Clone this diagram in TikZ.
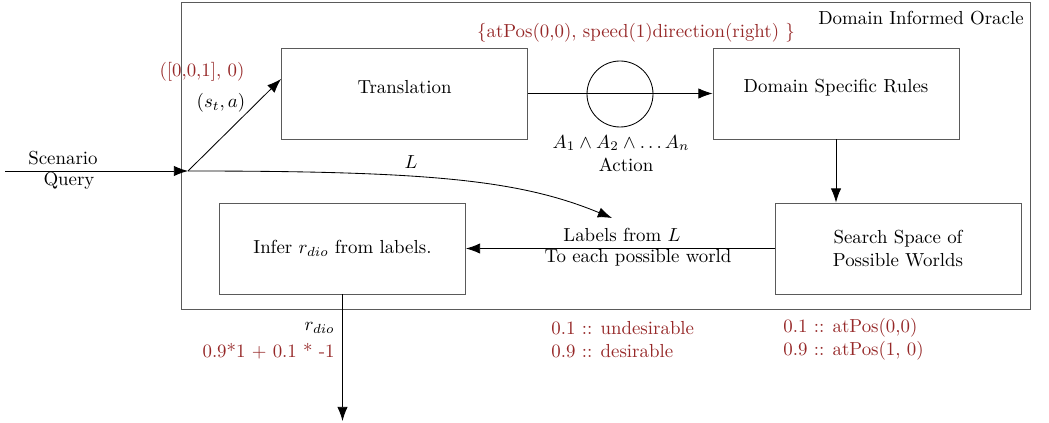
\documentclass[tikz,border=0pt]{standalone}
\usetikzlibrary{arrows.meta}
\definecolor{redtxt}{RGB}{150,40,40}
\definecolor{boxgray}{RGB}{90,90,90}
\begin{document}
\begin{tikzpicture}[x=0.53pt,y=-0.53pt,
  box/.style={draw=boxgray,line width=0.5pt,minimum width=246*0.53pt,minimum height=91*0.53pt,inner sep=0pt,align=center},
  conn/.style={draw=black,line width=0.45pt,-{Latex[length=7.5pt,width=5.5pt]}},
  lbl/.style={inner sep=0pt,align=center},
  rlbl/.style={inner sep=0pt,text=redtxt,align=left}]
\useasboundingbox (0,0) rectangle (1049,423);
\node[draw=boxgray,line width=0.5pt,minimum width=849*0.53pt,minimum height=307*0.53pt,inner sep=0pt] (oracle) at (605.5,155.5) {};
\node[lbl,anchor=east] (title) at (1024,18) {Domain Informed Oracle};
\node[box,label={[lbl,yshift=3.2pt]center:Translation}] (trans) at (404.5,93.5) {};
\node[box,label={[lbl,yshift=3.2pt]center:Domain Specific Rules}] (dsr) at (836,93.5) {};
\node[box] (ss) at (898,248.5) {Search Space of\\Possible Worlds};
\node[box] (infer) at (342.5,248.5) {Infer $r_{dio}$ from labels.};
\node[draw=black,line width=0.45pt,circle,minimum size=66*0.53pt,inner sep=0pt] (circ) at (620,94) {};
\node[lbl,text=redtxt] (facts) at (636,33) {\{atPos(0,0), speed(1)direction(right) \}};
\node[lbl] (conj) at (621,143) {$A_1\wedge A_2\wedge\ldots A_n$};
\node[lbl] (action) at (626,165) {Action};
\node[lbl] (lab1) at (622,235) {Labels from $L$};
\node[lbl] (lab2) at (638,258) {To each possible world};
\node[lbl] (scen) at (63,158) {Scenario};
\node[lbl] (query) at (69,181) {Query};
\node[lbl] (sa) at (221,103) {$(s_t,a)$};
\node[lbl,text=redtxt] (vec) at (202,72) {([0,0,1], 0)};
\node[lbl] (L) at (411,162) {$L$};
\node[lbl,anchor=east] (rdio) at (335,328) {$r_{dio}$};
\node[lbl,anchor=east,text=redtxt] (calc) at (335,351) {0.9*1 + 0.1 * -1};
\node[rlbl,anchor=west] (u1) at (551,328) {0.1 :: undesirable};
\node[rlbl,anchor=west] (u2) at (551,351) {0.9 :: desirable};
\node[rlbl,anchor=west] (p1) at (783,328) {0.1 :: atPos(0,0)};
\node[rlbl,anchor=west] (p2) at (783,351) {0.9 :: atPos(1, 0)};
\coordinate (start) at (5,171);
\coordinate (junc) at (188,171);
\coordinate (ltip) at (612,218);
\coordinate (out) at (342.5,421);
\draw[conn] (start) -- (junc);
\draw[conn] (junc) -- (trans.west |- 0,79);
\draw[conn] (junc) .. controls (430,171) and (520,180) .. (ltip);
\draw[conn] (trans.east) -- (dsr.west);
\draw[conn] (dsr.south) -- (dsr.south |- ss.north);
\draw[conn] (ss.west) -- (infer.east);
\draw[conn] (infer.south) -- (out);
\end{tikzpicture}
\end{document}
